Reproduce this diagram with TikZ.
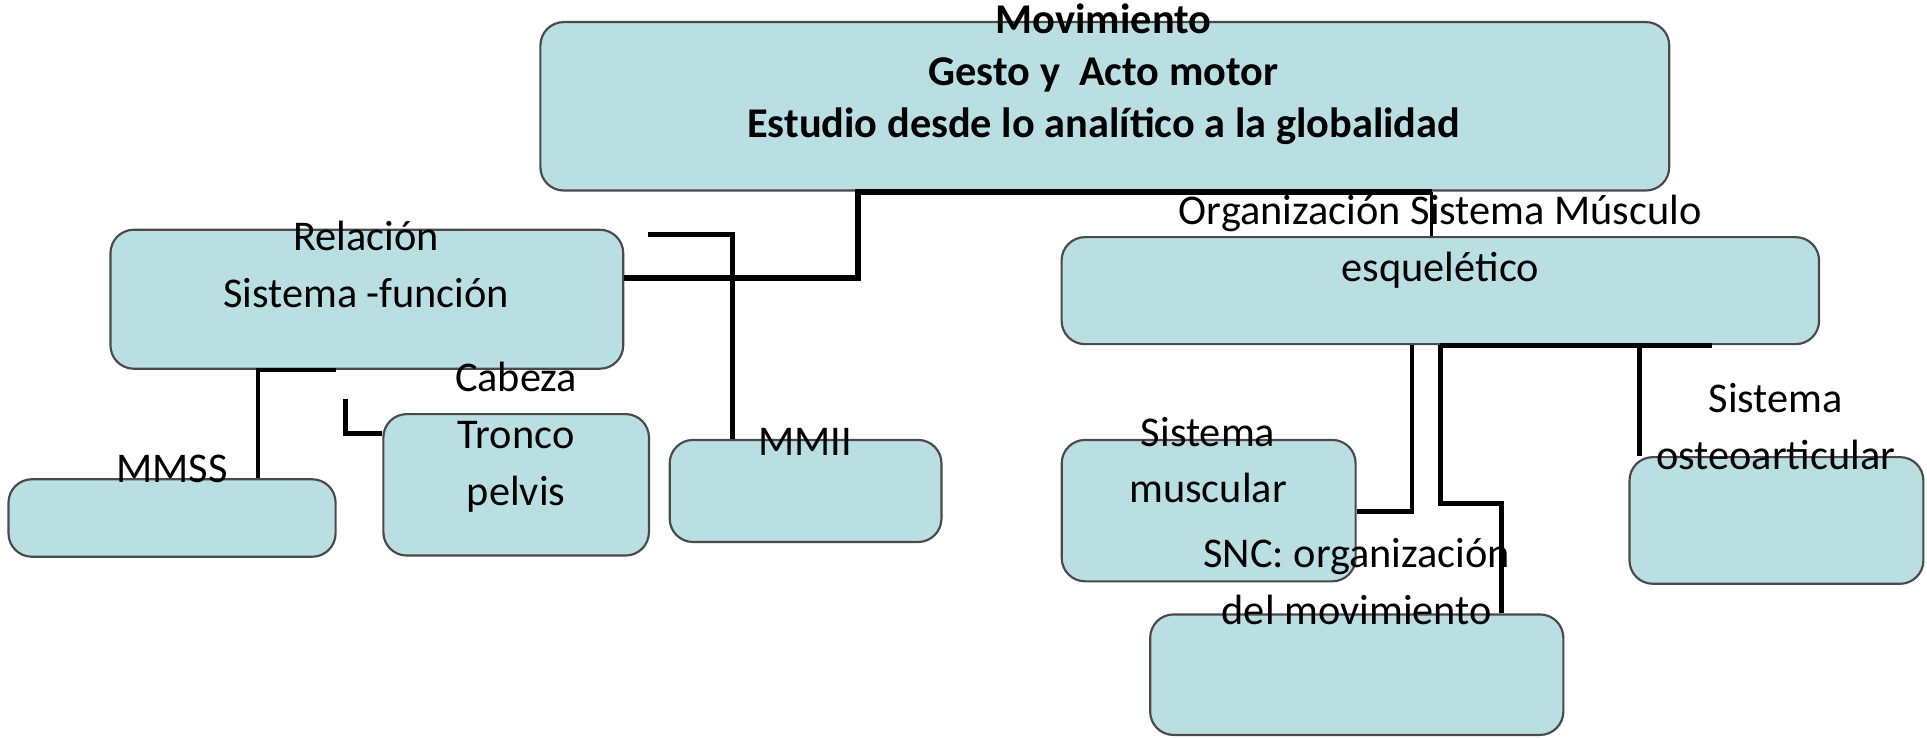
\documentclass[tikz,border=0pt]{standalone}
\usepackage{fontspec}
\setmainfont{Carlito}
\usepackage{tikz}
\usetikzlibrary{positioning, calc}

\definecolor{cajafondo}{HTML}{B9DFE3}
\definecolor{cajaborde}{HTML}{4A4A4A}

\begin{document}
\begin{tikzpicture}[x=0.01cm, y=-0.01cm,
        caja/.style={draw=cajaborde, fill=cajafondo, line width=0.5pt,
                     rounded corners=0.19cm, inner sep=0pt},
        enlace/.style={draw=black, line width=1.1pt},
        texto/.style={align=center, inner sep=0pt, anchor=base,
                      font=\fontsize{9.8}{13.1}\selectfont}]
        \useasboundingbox (0,0) rectangle (1568,600);

        % cajas
        \node[caja, minimum width=9.18cm, minimum height=1.37cm] (mov) at (899,86.5) {};
        \node[caja, minimum width=4.17cm, minimum height=1.13cm] (rel) at (298.5,243.5) {};
        \node[caja, minimum width=6.16cm, minimum height=0.87cm] (org) at (1172,236.5) {};
        \node[caja, minimum width=2.66cm, minimum height=0.63cm] (mmss) at (140,421.5) {};
        \node[caja, minimum width=2.16cm, minimum height=1.15cm] (tronco) at (420,394.5) {};
        \node[caja, minimum width=2.21cm, minimum height=0.83cm] (mmii) at (655.5,399.5) {};
        \node[caja, minimum width=2.39cm, minimum height=1.15cm] (musc) at (983.5,415.5) {};
        \node[caja, minimum width=3.36cm, minimum height=0.98cm] (snc) at (1104,549) {};
        \node[caja, minimum width=2.39cm, minimum height=1.03cm] (osteo) at (1445.5,423.5) {};

        % enlaces
        \coordinate (c1) at (698,226);
        \coordinate (c2) at (1165,175);
        \draw[enlace, line width=1.4pt] (c1 -| rel.east) -- (c1) -- (mov.south -| c1) -- (mov.south -| c2);
        \draw[enlace, line width=0.8pt] (mov.south -| c2) -- (org.north -| c2);

        \coordinate (c3) at (527,191);
        \coordinate (c4) at (596,191);
        \draw[enlace] (c3) -- (c4) -- (c4 |- mmii.north);

        \coordinate (c5) at (273,301);
        \coordinate (c6) at (210,301);
        \draw[enlace, line width=0.9pt] (c5) -- (c6) -- (c6 |- mmss.north);

        \coordinate (c7) at (281,325);
        \coordinate (c8) at (281,353);
        \draw[enlace] (c7) -- (c8) -- (c8 -| tronco.west);

        \coordinate (c9) at (1149,416);
        \draw[enlace] (org.south -| c9) -- (c9) -- (c9 -| musc.east);

        \coordinate (c10) at (1172,410);
        \coordinate (c11) at (1222,410);
        \draw[enlace] (org.south -| c10) -- (c10) -- (c11) -- (c11 |- snc.north);

        \coordinate (c12) at (1393,281);
        \coordinate (c13) at (1334,281);
        \draw[enlace] (org.south -| c10) -- (org.south -| c12);
        \draw[enlace] (org.south -| c13) -- (osteo.north -| c13);

        % textos
        \node[texto, font=\bfseries\fontsize{9.8}{12.1}\selectfont] (movT) at (898,112)
            {Movimiento\\Gesto y~ Acto motor\\Estudio desde lo analítico a la globalidad};
        \node[texto] (relT) at (298,250) {Relación\\Sistema -función};
        \node[texto] (orgT) at (1172,229) {Organización Sistema Músculo\\esquelético};
        \node[texto] (troncoT) at (420,411) {Cabeza\\Tronco\\pelvis};
        \node[texto] (mmssT) at (140,393) {MMSS};
        \node[texto] (mmiiT) at (655,371) {MMII};
        \node[texto] (muscT) at (983,409) {Sistema\\muscular};
        \node[texto] (sncT) at (1104,508) {SNC: organización\\del movimiento};
        \node[texto] (osteoT) at (1445,382) {Sistema\\osteoarticular};
    \end{tikzpicture}
\end{document}
